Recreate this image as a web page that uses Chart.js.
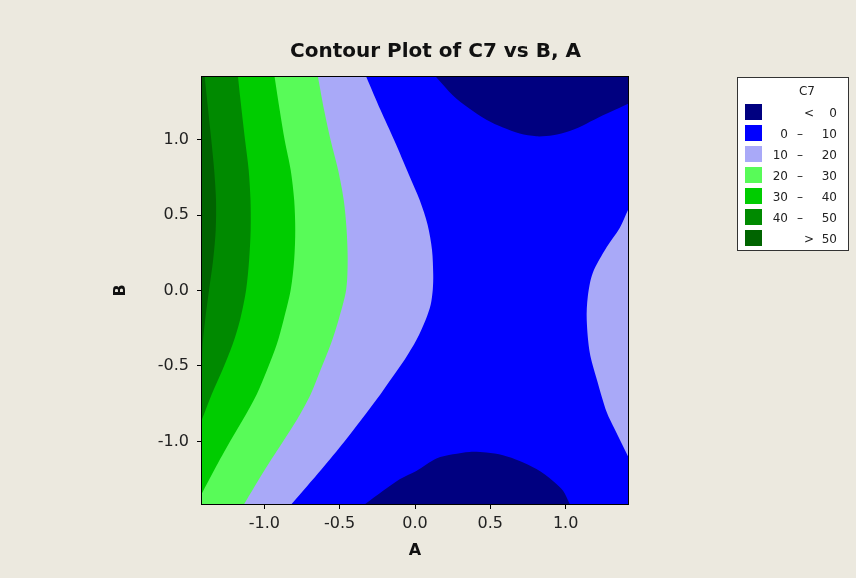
<!DOCTYPE html>
<html>
<head>
<meta charset="utf-8">
<script src="https://cdn.jsdelivr.net/npm/chart.js@4.4.0/dist/chart.umd.min.js"></script>
<style>
    body { margin: 0; background: #ece9df; }
    #wrap { width: 856px; height: 578px; }
</style>
</head>
<body>
<div id="wrap"><canvas id="myChart" width="856" height="578"></canvas></div>
<script>

// axis limits of the design (alpha = sqrt 2)
var lim = 1.414;
var x_ticks = [-1.0, -0.5, 0.0, 0.5, 1.0];
var y_ticks = [-1.0, -0.5, 0.0, 0.5, 1.0];

// contour lines, [A, B] from top to bottom
var contour_50 = [[-1.396, 1.414], [-1.373, 1.193], [-1.352, 0.995], [-1.333, 0.797], [-1.321, 0.599],
    [-1.323, 0.401], [-1.340, 0.203], [-1.367, 0.005], [-1.393, -0.193], [-1.410, -0.358], [-1.414, -0.490]];
var contour_40 = [[-1.175, 1.414], [-1.151, 1.193], [-1.128, 0.995], [-1.104, 0.797], [-1.092, 0.599],
    [-1.091, 0.401], [-1.101, 0.203], [-1.121, 0.005], [-1.161, -0.193], [-1.211, -0.358], [-1.277, -0.523],
    [-1.350, -0.688], [-1.414, -0.853]];
var contour_30 = [[-0.932, 1.414], [-0.898, 1.193], [-0.865, 0.995], [-0.825, 0.797], [-0.802, 0.599],
    [-0.795, 0.401], [-0.802, 0.203], [-0.825, 0.005], [-0.872, -0.193], [-0.918, -0.358], [-0.981, -0.523],
    [-1.051, -0.688], [-1.141, -0.853], [-1.227, -0.999], [-1.330, -1.184], [-1.414, -1.342]];
var contour_20 = [[-0.644, 1.414], [-0.603, 1.193], [-0.560, 0.995], [-0.510, 0.797], [-0.473, 0.599],
    [-0.454, 0.401], [-0.447, 0.203], [-0.457, 0.005], [-0.507, -0.193], [-0.560, -0.358], [-0.626, -0.523],
    [-0.693, -0.688], [-0.782, -0.853], [-0.875, -0.999], [-0.995, -1.184], [-1.134, -1.414]];
var contour_10_left = [[-0.323, 1.414], [-0.228, 1.193], [-0.138, 0.995], [-0.039, 0.764], [0.031, 0.599],
    [0.084, 0.434], [0.113, 0.269], [0.121, 0.104], [0.118, 0.005], [0.104, -0.094], [0.071, -0.193],
    [0.011, -0.325], [-0.068, -0.457], [-0.161, -0.589], [-0.254, -0.721], [-0.354, -0.853],
    [-0.467, -0.999], [-0.620, -1.184], [-0.819, -1.414]];
var contour_10_right = [[1.414, 0.533], [1.359, 0.414], [1.273, 0.288], [1.180, 0.116], [1.147, -0.042],
    [1.140, -0.193], [1.160, -0.411], [1.207, -0.589], [1.273, -0.807], [1.326, -0.919], [1.414, -1.098]];
// zero contour, left to right
var contour_0_top = [[0.140, 1.414], [0.252, 1.292], [0.363, 1.204], [0.474, 1.131], [0.584, 1.079],
    [0.695, 1.039], [0.806, 1.021], [0.916, 1.028], [1.027, 1.056], [1.138, 1.105], [1.248, 1.160],
    [1.359, 1.211], [1.414, 1.237]];
var contour_0_bottom = [[-0.330, -1.414], [-0.212, -1.327], [-0.102, -1.250], [0.009, -1.195], [0.142, -1.113],
    [0.252, -1.085], [0.363, -1.069], [0.474, -1.073], [0.584, -1.091], [0.695, -1.129], [0.806, -1.183],
    [0.916, -1.261], [0.983, -1.327], [1.027, -1.414]];

// legend rows
var legend_title = 'C7';
var legend_low = ['', '0', '10', '20', '30', '40', ''];
var legend_sign = ['<', '–', '–', '–', '–', '–', '>'];
var legend_high = ['0', '10', '20', '30', '40', '50', '50'];
var level_colors = ['#000080', '#0000ff', '#a9a9f8', '#58fb58', '#00cc00', '#008a00', '#006400'];

var font_family = "'DejaVu Sans', sans-serif";

// a filled band: the contour line, closed through the given plot corners.
// end points and corners are repeated so the smoothing stays on the line itself
function region(label, contour, corners, color) {
    var pts = [contour[0]].concat(contour, [contour[contour.length - 1]]);
    corners.forEach(c => { pts.push(c, c) });
    return {
        label: label,
        data: pts.map(p => ({x: p[0], y: p[1]})),
        showLine: true,
        fill: 'shape',
        backgroundColor: color,
        borderWidth: 0,
        pointRadius: 0,
        pointHoverRadius: 0,
        tension: 0.3
    }
}

var frame_plugin = {
    id: 'frame',
    afterDatasetsDraw(chart) {
        const a = chart.chartArea;
        const c = chart.ctx;
        c.save();
        c.strokeStyle = '#000';
        c.lineWidth = 1;
        c.strokeRect(a.left - 0.5, a.top - 0.5, a.right - a.left + 1, a.bottom - a.top + 1);
        c.restore();
    }
}

var title_plugin = {
    id: 'plot_title',
    afterDraw(chart) {
        const c = chart.ctx;
        c.save();
        c.font = 'bold 20px ' + font_family;
        c.fillStyle = '#111';
        c.textAlign = 'center';
        c.textBaseline = 'alphabetic';
        c.fillText('Contour Plot of C7 vs B, A', 435.5, 57);
        c.restore();
    }
}

var legend_plugin = {
    id: 'c7_legend',
    afterDraw(chart) {
        const c = chart.ctx;
        c.save();
        c.fillStyle = '#fff';
        c.fillRect(737, 77, 112, 174);
        c.strokeStyle = '#333';
        c.lineWidth = 1;
        c.strokeRect(737.5, 77.5, 111, 173);
        c.font = '12px ' + font_family;
        c.fillStyle = '#222';
        c.textBaseline = 'alphabetic';
        c.textAlign = 'center';
        c.fillText(legend_title, 807, 95);
        for (let i = 0; i < legend_high.length; i++) {
            const top = 104 + 21 * i;
            const base = 117 + 21 * i;
            c.fillStyle = level_colors[i];
            c.fillRect(745, top, 17, 16);
            c.fillStyle = '#222';
            c.textAlign = 'right';
            c.fillText(legend_low[i], 788, base);
            c.fillText(legend_high[i], 837, base);
            c.textAlign = 'center';
            c.fillText(legend_sign[i], legend_low[i] ? 800 : 809, base);
        }
        c.restore();
    }
}

function axis(ticks_list, is_x) {
    return {
        type: 'linear',
        min: -lim,
        max: lim,
        afterBuildTicks: s => { s.ticks = ticks_list.map(v => ({value: v})) },
        afterFit: s => { if (is_x) { s.height = 74 } else { s.width = 102 } },
        ticks: {
            callback: v => Number(v).toFixed(1),
            padding: is_x ? 5 : 8,
            color: '#222',
            autoSkip: false,
            maxRotation: 0,
            font: {family: font_family, size: 16}
        },
        grid: {drawOnChartArea: false, tickLength: 5, tickColor: '#000', color: '#000'},
        border: {display: false},
        title: {
            display: true,
            text: is_x ? 'A' : 'B',
            color: '#111',
            font: {family: font_family, size: 16, weight: 'bold'},
            padding: is_x ? {top: 0, bottom: 18} : {top: 11, bottom: 0}
        }
    }
}

var top_left = [-lim, lim];
var top_right = [lim, lim];
var bottom_left = [-lim, -lim];
var bottom_right = [lim, -lim];

const ctx = document.getElementById('myChart').getContext('2d');
// datasets are painted last-first, so the topmost band comes first
const myChart = new Chart(ctx, {
    type: 'scatter',
    data: {
        datasets: [
            region('> 50', contour_50, [top_left], level_colors[6]),
            region('40 - 50', contour_40, [top_left], level_colors[5]),
            region('30 - 40', contour_30, [top_left], level_colors[4]),
            region('20 - 30', contour_20, [bottom_left, top_left], level_colors[3]),
            region('< 0', contour_0_top, [top_right], level_colors[0]),
            region('< 0', contour_0_bottom, [], level_colors[0]),
            region('10 - 20', contour_10_right, [], level_colors[2]),
            region('10 - 20', contour_10_left, [bottom_left, top_left], level_colors[2]),
            region('0 - 10', [top_left, top_right], [bottom_right, bottom_left], level_colors[1])
        ]
    },
    options: {
        responsive: false,
        animation: false,
        events: [],
        layout: {padding: {left: 100, top: 77, right: 228, bottom: 0}},
        scales: {
            x: axis(x_ticks, true),
            y: axis(y_ticks, false)
        },
        plugins: {
            legend: {display: false},
            title: {display: false},
            tooltip: {enabled: false}
        }
    },
    plugins: [frame_plugin, title_plugin, legend_plugin]
});
</script>
</body>
</html>
